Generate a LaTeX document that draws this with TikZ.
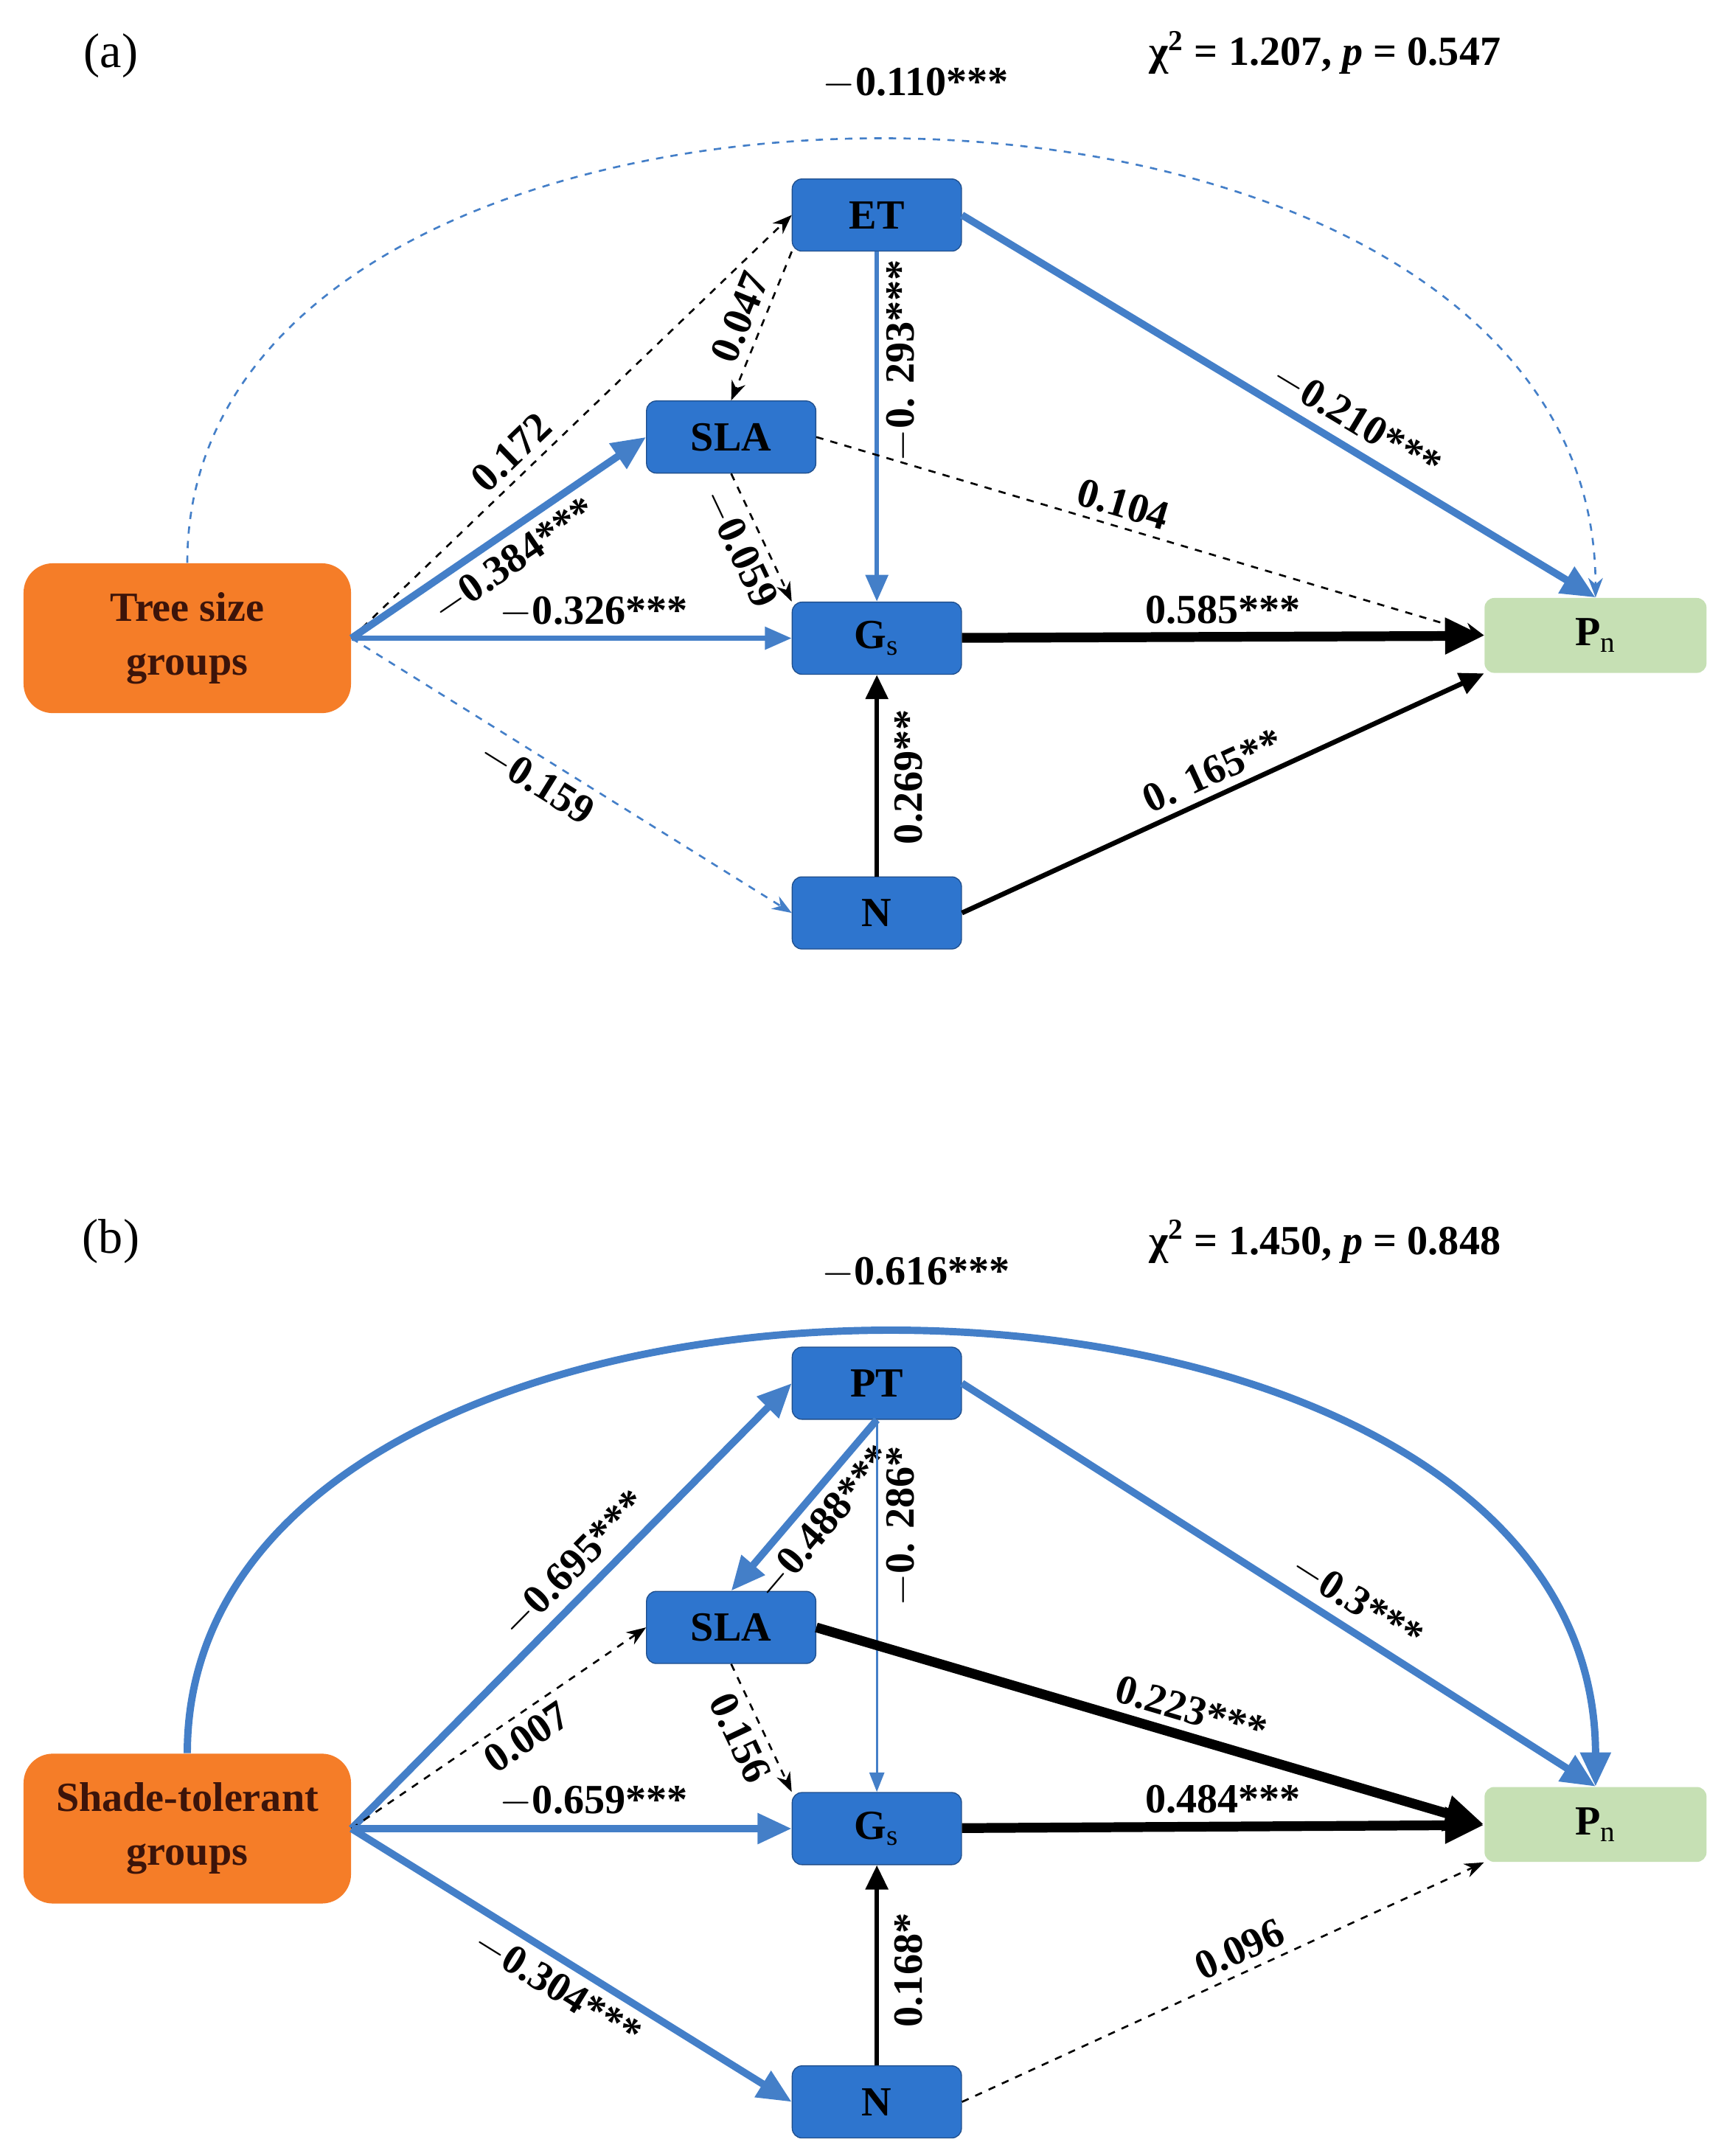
\documentclass[tikz,border=0pt]{standalone}
\usepackage{fontspec}
\setmainfont{Liberation Serif}
\usetikzlibrary{arrows.meta}
\definecolor{boxblue}{RGB}{46,117,206}
\definecolor{boxedge}{RGB}{31,78,140}
\definecolor{arrblue}{RGB}{68,127,200}
\definecolor{grporange}{RGB}{245,125,40}
\definecolor{pngreen}{RGB}{198,224,180}
\definecolor{grptext}{RGB}{60,20,10}
\tikzset{
  var/.style={draw=boxedge,fill=boxblue,rounded corners=4pt,minimum width=2.44cm,minimum height=1.04cm,font=\fontsize{17}{20}\selectfont\bfseries},
  grp/.style={fill=grporange,rounded corners=12pt,minimum width=4.72cm,minimum height=2.16cm,align=center,text=grptext,font=\fontsize{17}{22}\selectfont\bfseries},
  resp/.style={fill=pngreen,rounded corners=4pt,minimum width=3.2cm,minimum height=1.08cm,font=\fontsize{17}{20}\selectfont\bfseries},
  lab/.style={font=\fontsize{17}{20}\selectfont\bfseries},
  bthick/.style={draw=arrblue,line width=3pt,-{Triangle[length=14pt,width=12pt]}},
  bmid/.style={draw=arrblue,line width=2pt,-{Triangle[length=11pt,width=9pt]}},
  bthin/.style={draw=arrblue,line width=1pt,-{Triangle[length=8pt,width=6pt]}},
  bdash/.style={draw=arrblue,line width=0.8pt,dashed,-{Stealth[length=8pt]}},
  kdash/.style={draw=black,line width=0.8pt,dashed,-{Stealth[length=8pt]}},
  kthick/.style={draw=black,line width=4pt,-{Triangle[length=16pt,width=14pt]}},
  kmid/.style={draw=black,line width=2pt,-{Triangle[length=10pt,width=9pt]}},
}
\begin{document}
\begin{tikzpicture}
\useasboundingbox (0,0) rectangle (24.8,-31.08);

% panel (a)
\node[font=\fontsize{20}{24}\selectfont] (taga) at (1.6,-0.8) {(a)};
\node[lab] (chia) at (19.1,-0.76) {χ\textsuperscript{2} = 1.207, \textit{p} = 0.547};
\node[grp] (tree) at (2.7,-9.2) {Tree size\\groups};
\node[var] (et) at (12.64,-3.1) {ET};
\node[var] (slaa) at (10.54,-6.3) {SLA};
\node[var] (gsa) at (12.64,-9.2) {G$_\mathrm{s}$};
\node[var] (na) at (12.64,-13.16) {N};
\node[resp] (pna) at (23.0,-9.16) {P$_\mathrm{n}$};
\coordinate (ta) at (tree.east);

\draw[bdash] (tree.north) .. controls (2.7,0.1) and (23,0.1) .. (pna.north);
\node[lab] (lcurva) at (13.2,-1.2) {$-$0.110***};
\draw[kdash] (ta) -- node[lab,sloped,above,pos=0.4] {0.172} (et.west);
\draw[bthick] (ta) -- node[lab,sloped,below,pos=0.5] {$-$0.384***} (slaa.west);
\draw[bmid] (ta) -- node[lab,above,pos=0.55] {$-$0.326***} (gsa.west);
\draw[bdash] (ta) -- node[lab,sloped,below,pos=0.45] {$-$0.159} (na.west);
\draw[kdash] (et.south west) -- node[lab,sloped,above] {0.047} (slaa.north);
\draw[bmid] (et) -- (gsa);
\node[lab,rotate=90] (lets) at (13.0,-5.2) {$-$0. 293***};
\draw[bthick] (et.east) -- node[lab,sloped,above,pos=0.6] {$-$0.210***} (pna.north);
\draw[kdash] (slaa.south) -- node[lab,sloped,below] {$-$0.059} (gsa.north west);
\draw[kdash] (slaa.east) -- node[lab,sloped,above,pos=0.45] {0.104} (pna.west);
\draw[kthick] (gsa) -- node[lab,above] {0.585***} (pna);
\draw[kmid] (na) -- (gsa);
\node[lab,rotate=90] (lnga) at (13.1,-11.2) {0.269**};
\draw[kmid] (na.east) -- node[lab,sloped,above] {0. 165**} (pna.south west);

% panel (b)
\node[font=\fontsize{20}{24}\selectfont] (tagb) at (1.6,-17.9) {(b)};
\node[lab] (chib) at (19.1,-17.9) {χ\textsuperscript{2} = 1.450, \textit{p} = 0.848};
\node[grp] (shade) at (2.7,-26.36) {Shade-tolerant\\groups};
\node[var] (pt) at (12.64,-19.94) {PT};
\node[var] (slab) at (10.54,-23.46) {SLA};
\node[var] (gsb) at (12.64,-26.36) {G$_\mathrm{s}$};
\node[var] (nb) at (12.64,-30.3) {N};
\node[resp] (pnb) at (23.0,-26.3) {P$_\mathrm{n}$};
\coordinate (sb) at (shade.east);

\draw[bthick] (shade.north) .. controls (2.7,-17.14) and (23,-17.14) .. (pnb.north);
\node[lab] (lcurvb) at (13.2,-18.35) {$-$0.616***};
\draw[bthick] (sb) -- node[lab,sloped,above,pos=0.55] {$-$0.695***} (pt.west);
\draw[kdash] (sb) -- node[lab,sloped,below,pos=0.55] {0.007} (slab.west);
\draw[bthick] (sb) -- node[lab,above,pos=0.55] {$-$0.659***} (gsb.west);
\draw[bthick] (sb) -- node[lab,sloped,below,pos=0.5] {$-$0.304***} (nb.west);
\draw[bthick] (pt.south) -- node[lab,sloped,below] {$-$0.488***} (slab.north);
\draw[bthin] (pt) -- (gsb);
\node[lab,rotate=90] (lptg) at (13.0,-22.0) {$-$0. 286*};
\draw[bthick] (pt.east) -- node[lab,sloped,above,pos=0.6] {$-$0.3***} (pnb.north);
\draw[kdash] (slab.south) -- node[lab,sloped,below] {0.156} (gsb.north west);
\draw[kthick] (slab.east) -- node[lab,sloped,above,pos=0.55] {0.223***} (pnb.west);
\draw[kthick] (gsb) -- node[lab,above] {0.484***} (pnb);
\draw[kmid] (nb) -- (gsb);
\node[lab,rotate=90] (lngb) at (13.1,-28.4) {0.168*};
\draw[kdash] (nb.east) -- node[lab,sloped,above,pos=0.55] {0.096} (pnb.south west);
\end{tikzpicture}
\end{document}
